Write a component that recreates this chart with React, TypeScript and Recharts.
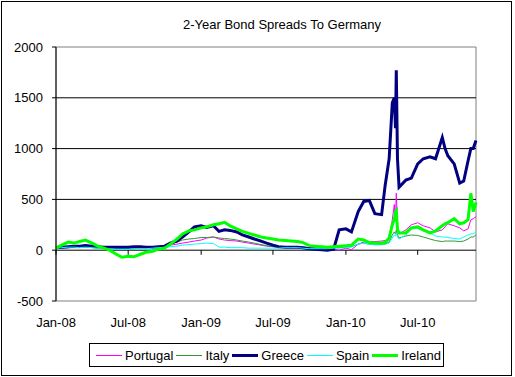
import React from 'react';
import { LineChart, Line, XAxis, YAxis, ReferenceLine, ReferenceArea } from 'recharts';

const dates = [
  '2008-01-01', '2008-01-15', '2008-02-01', '2008-02-15', '2008-03-01', '2008-03-15',
  '2008-04-01', '2008-04-15', '2008-05-01', '2008-05-15', '2008-06-01', '2008-06-15',
  '2008-07-01', '2008-07-15', '2008-08-01', '2008-08-15', '2008-09-01', '2008-09-15',
  '2008-10-01', '2008-10-15', '2008-11-01', '2008-11-15', '2008-12-01', '2008-12-15',
  '2009-01-01', '2009-01-15', '2009-02-01', '2009-02-15', '2009-03-01', '2009-03-15',
  '2009-04-01', '2009-04-15', '2009-05-01', '2009-05-15', '2009-06-01', '2009-06-15',
  '2009-07-01', '2009-07-15', '2009-08-01', '2009-08-15', '2009-09-01', '2009-09-15',
  '2009-10-01', '2009-10-15', '2009-11-01', '2009-11-15', '2009-12-01', '2009-12-15',
  '2010-01-01', '2010-01-15', '2010-02-01', '2010-02-15', '2010-03-01', '2010-03-15',
  '2010-04-01', '2010-04-10', '2010-04-20', '2010-04-28', '2010-05-03', '2010-05-06',
  '2010-05-08', '2010-05-11', '2010-05-15', '2010-06-01', '2010-06-15', '2010-07-01',
  '2010-07-15', '2010-08-01', '2010-08-15', '2010-09-01', '2010-09-08', '2010-09-15',
  '2010-10-01', '2010-10-15', '2010-10-25', '2010-11-05', '2010-11-12', '2010-11-18',
  '2010-11-25',
];

const portugal = [
  20, 25, 30, 30, 35, 40, 35, 30, 25, 20, 20, 20,
  20, 25, 25, 25, 30, 35, 40, 50, 60, 70, 80, 90,
  100, 120, 130, 110, 100, 95, 90, 80, 70, 60, 50, 40,
  35, 30, 30, 30, 30, 30, 25, 25, 20, 15, 10, 0,
  20, 5, 60, 80, 85, 85, 90, 95, 110, 300, 450, 300,
  560, 250, 160, 200, 250, 270, 240, 220, 180, 200, 230, 260,
  240, 220, 190, 210, 300, 310, 330,
];

const italy = [
  15, 20, 25, 25, 25, 30, 25, 20, 20, 15, 15, 15,
  15, 15, 20, 20, 25, 30, 40, 60, 80, 100, 110, 115,
  125, 125, 130, 120, 115, 110, 100, 90, 80, 70, 55, 45,
  35, 30, 30, 30, 30, 25, 20, 20, 20, 20, 25, 25,
  30, 35, 60, 70, 60, 55, 55, 60, 80, 150, 180, 160,
  200, 150, 120, 140, 150, 145, 130, 110, 95, 85, 90, 90,
  90, 85, 90, 110, 130, 130, 150,
];

const greece = [
  25, 30, 35, 40, 40, 45, 40, 35, 30, 30, 30, 30,
  30, 35, 35, 30, 30, 35, 40, 70, 90, 130, 180, 230,
  240, 225, 240, 185, 200, 195, 180, 150, 130, 110, 90, 70,
  50, 35, 30, 30, 30, 25, 15, 10, 5, 0, 10, 200,
  210, 180, 380, 480, 490, 360, 350, 640, 900, 1450, 1500, 1200,
  1770, 900, 620, 690, 710, 850, 900, 920, 900, 1110, 1000, 930,
  850, 660, 680, 880, 1000, 1000, 1080,
];

const spain = [
  20, 25, 30, 30, 25, 30, 25, 20, 15, 15, 10, 10,
  10, 15, 15, 15, 20, 25, 30, 35, 40, 50, 55, 60,
  65, 70, 65, 30, 30, 25, 25, 25, 20, 20, 20, 20,
  20, 20, 25, 25, 25, 20, 15, 15, 15, 15, 20, 20,
  25, 30, 60, 70, 60, 55, 55, 60, 70, 120, 150, 140,
  170, 130, 110, 150, 210, 215, 190, 170, 140, 130, 130, 125,
  115, 110, 130, 150, 160, 160, 180,
];

const ireland = [
  20, 50, 80, 70, 85, 100, 70, 40, 20, 0, -40, -70,
  -60, -65, -40, -20, -10, 10, 20, 60, 110, 160, 190, 200,
  220, 230, 250, 260, 275, 240, 210, 185, 165, 150, 130, 120,
  110, 100, 95, 90, 85, 75, 45, 40, 35, 30, 35, 40,
  45, 50, 110, 100, 75, 70, 70, 75, 120, 250, 300, 380,
  390, 200, 170, 170, 220, 230, 200, 170, 190, 240, 260, 270,
  310, 260, 270, 300, 560, 380, 470,
];

const tickDates = ['2008-01-01', '2008-07-01', '2009-01-01', '2009-07-01', '2010-01-01', '2010-07-01'];
const tickLabels = ['Jan-08', 'Jul-08', 'Jan-09', 'Jul-09', 'Jan-10', 'Jul-10'];
const yTicks = [-500, 0, 500, 1000, 1500, 2000];
const gridValues = [0, 500, 1000, 1500];

const series = [
  { key: 'portugal', name: 'Portugal', color: '#ff00ff', width: 1, values: portugal },
  { key: 'italy', name: 'Italy', color: '#339933', width: 1, values: italy },
  { key: 'greece', name: 'Greece', color: '#000080', width: 3, values: greece },
  { key: 'spain', name: 'Spain', color: '#00ffff', width: 1, values: spain },
  { key: 'ireland', name: 'Ireland', color: '#00ff00', width: 3, values: ireland },
];

const FONT = '"Liberation Sans", Arial, sans-serif';
const toTime = (d: string) => Date.parse(d + 'T00:00:00Z');

const data = dates.map((d, i) => {
  const row: any = { t: toTime(d) };
  series.forEach((s) => {
    row[s.key] = s.values[i];
  });
  return row;
});

const tickTimes = tickDates.map(toTime);
const xStart = toTime(dates[0]);
const xEnd = toTime(dates[dates.length - 1]);

const formatTick = (v: number) => {
  const idx = tickTimes.indexOf(v);
  return idx >= 0 ? tickLabels[idx] : '';
};

export default function App() {
  return (
    <div
      style={{
        position: 'absolute',
        left: 0,
        top: 0,
        width: 515,
        height: 377,
        background: '#fff',
        fontFamily: FONT,
      }}
    >
      <div
        style={{
          position: 'absolute',
          left: 1,
          top: 1,
          width: 511,
          height: 375,
          border: '1px solid #000',
          boxSizing: 'border-box',
        }}
      />
      <div
        style={{
          position: 'absolute',
          left: 0,
          width: 564,
          top: 17,
          textAlign: 'center',
          fontSize: 13,
          color: '#000',
        }}
      >
        2-Year Bond Spreads To Germany
      </div>
      <div style={{ position: 'absolute', left: 0, top: 0 }}>
        <LineChart
          width={515}
          height={377}
          data={data}
          margin={{ top: 47, right: 39, bottom: 46, left: 0 }}
        >
          <XAxis
            dataKey="t"
            type="number"
            domain={[xStart, xEnd]}
            ticks={tickTimes}
            tickFormatter={formatTick}
            axisLine={false}
            tickLine={false}
            tickMargin={11}
            height={30}
            interval={0}
            tick={{ fill: '#000', fontSize: 13, fontFamily: FONT }}
          />
          <YAxis
            type="number"
            domain={[-500, 2000]}
            ticks={yTicks}
            width={56}
            tickSize={4}
            tickMargin={9}
            interval={0}
            axisLine={{ stroke: '#000' }}
            tickLine={{ stroke: '#000' }}
            tick={{ fill: '#000', fontSize: 13, fontFamily: FONT }}
          />
          <ReferenceArea
            x1={xStart}
            x2={xEnd}
            y1={-500}
            y2={2000}
            fill="none"
            stroke="#808080"
            strokeWidth={1}
          />
          {gridValues.map((v) => (
            <ReferenceLine key={`g${v}`} y={v} stroke="#000" strokeWidth={1} />
          ))}
          {tickTimes.map((t) => (
            <ReferenceLine
              key={`t${t}`}
              segment={[
                { x: t, y: 0 },
                { x: t, y: -45 },
              ]}
              stroke="#000"
              strokeWidth={1}
            />
          ))}
          {series.map((s) => (
            <Line
              key={s.key}
              type="linear"
              dataKey={s.key}
              name={s.name}
              stroke={s.color}
              strokeWidth={s.width}
              dot={false}
              isAnimationActive={false}
            />
          ))}
        </LineChart>
      </div>
      <div
        style={{
          position: 'absolute',
          left: 89,
          top: 343,
          width: 355,
          height: 24,
          border: '1px solid #000',
          boxSizing: 'border-box',
          display: 'flex',
          alignItems: 'center',
          paddingLeft: 6,
          fontSize: 13,
          color: '#000',
        }}
      >
        {series.map((s) => (
          <div key={s.key} style={{ display: 'flex', alignItems: 'center', marginRight: 3 }}>
            <div style={{ width: 26, height: s.width, background: s.color, marginRight: 3 }} />
            <span>{s.name}</span>
          </div>
        ))}
      </div>
    </div>
  );
}
